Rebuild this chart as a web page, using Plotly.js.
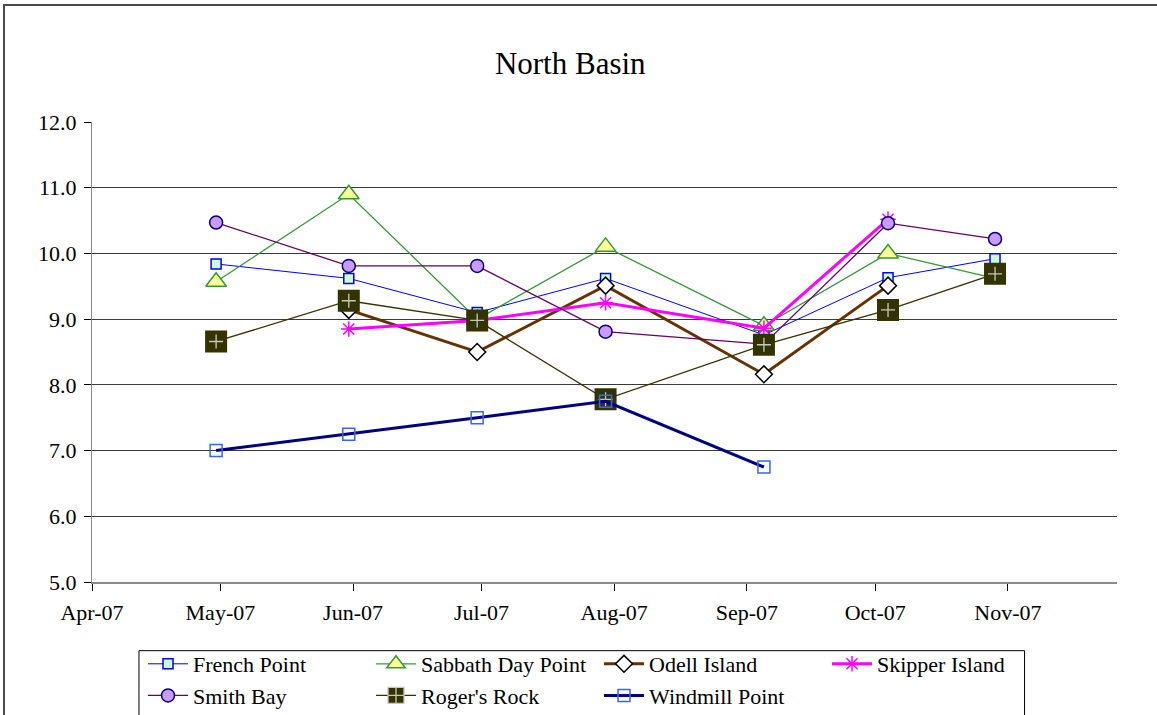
<!DOCTYPE html>
<html>
<head>
<meta charset="utf-8">
<script src="https://cdn.plot.ly/plotly-3.0.1.min.js"></script>
<style>
  html, body { margin: 0; padding: 0; background: #ffffff; overflow: hidden; }
  #chart { position: absolute; left: 0; top: 0; width: 1157px; height: 715px; }
  #frame { position: absolute; left: 3px; top: 4px; width: 1300px; height: 900px;
           border: 2px solid #4a4a4a; pointer-events: none; }
</style>
</head>
<body>
<div id="chart"></div>
<div id="frame"></div>
<script>
// ---- data ----
const sampleDates = ['2007-04-30', '2007-05-31', '2007-06-30', '2007-07-30', '2007-09-05', '2007-10-04', '2007-10-29'];
const frenchPoint     = [9.84, 9.62, 9.10, 9.62, 8.76, 9.63, 9.92];
const sabbathDayPoint = [9.57, 10.90, 9.00, 10.10, 8.90, 10.00, 9.62];
const odellIsland     = [null, 9.14, 8.50, 9.51, 8.16, 9.51, null];
const skipperIsland   = [null, 8.85, 8.98, 9.25, 8.86, 10.52, null];
const smithBay        = [10.47, 9.81, 9.81, 8.81, 8.62, 10.46, 10.22];
const rogersRock      = [8.66, 9.28, 8.98, 7.78, 8.61, 9.14, 9.69];
const windmillPoint   = [7.00, 7.25, 7.50, 7.75, 6.75, null, null];
const yTickValues = [5, 6, 7, 8, 9, 10, 11, 12];
const xRange = ['2007-04-01', '2007-11-26 12:00'];

const FONT = 'Liberation Serif, Times New Roman, serif';

const traces = [
  { name: 'French Point', x: sampleDates, y: frenchPoint, mode: 'lines+markers',
    line: { color: '#0000FF', width: 1 },
    marker: { symbol: 'square', size: 10, color: '#CCFFCC', line: { color: '#0000FF', width: 1.5 } } },
  { name: 'Sabbath Day Point', x: sampleDates, y: sabbathDayPoint, mode: 'lines+markers',
    line: { color: '#339933', width: 1.3 },
    marker: { symbol: 'triangle-up', size: 18, color: '#FFFF99', line: { color: '#339933', width: 1.5 } } },
  { name: 'Odell Island', x: sampleDates, y: odellIsland, mode: 'lines+markers',
    line: { color: '#663300', width: 3 },
    marker: { symbol: 'diamond', size: 13, color: '#FFFFFF', line: { color: '#000000', width: 1.5 } } },
  { name: 'Skipper Island', x: sampleDates, y: skipperIsland, mode: 'lines+markers',
    line: { color: '#FF00FF', width: 3 },
    marker: { symbol: 'asterisk-open', size: 13, color: '#FF00FF', line: { color: '#FF00FF', width: 1.5 } } },
  { name: 'Smith Bay', x: sampleDates, y: smithBay, mode: 'lines+markers',
    line: { color: '#660066', width: 1.3 },
    marker: { symbol: 'circle', size: 13, color: '#CC99FF', line: { color: '#000080', width: 1.5 } } },
  { name: "Roger's Rock", x: sampleDates, y: rogersRock, mode: 'lines+markers',
    line: { color: '#333300', width: 1.3 },
    marker: { symbol: 'square-cross', size: 18, color: '#333300', line: { color: '#C8C8C0', width: 1.3 } } },
  { name: "Roger's Rock", x: sampleDates, y: rogersRock, mode: 'markers', showlegend: false, hoverinfo: 'skip',
    marker: { symbol: 'square-open', size: 18, color: '#333300', line: { color: '#333300', width: 4 } } },
  { name: 'Windmill Point', x: sampleDates, y: windmillPoint, mode: 'lines+markers',
    line: { color: '#000080', width: 3 },
    marker: { symbol: 'square-open', size: 12, color: '#3366FF', line: { color: '#3366FF', width: 1.5 } } }
];

const layout = {
  width: 1157, height: 715,
  margin: { l: 92, r: 39.5, t: 122, b: 132.7, pad: 0, autoexpand: false },
  paper_bgcolor: '#FFFFFF', plot_bgcolor: '#FFFFFF',
  font: { family: FONT, color: '#000000', size: 22 },
  title: { text: 'North Basin', font: { family: FONT, size: 31, color: '#000000' },
           xref: 'paper', x: 0.4666, xanchor: 'center', yref: 'container', y: 0.912, yanchor: 'middle' },
  showlegend: true,
  legend: { orientation: 'h', xref: 'container', yref: 'container',
            x: 0.1236, xanchor: 'left', y: 0.1007, yanchor: 'top',
            bgcolor: 'rgba(0,0,0,0)', borderwidth: 0,
            font: { family: FONT, size: 22, color: '#000000' },
            itemwidth: 40, entrywidth: 173, traceorder: 'normal' },
  // legend frame (box), drawn as a layout rectangle
  shapes: [{ type: 'rect', xref: 'paper', yref: 'paper', layer: 'below',
             x0: 0.04583, x1: 0.9098, y0: -0.1493, y1: -0.32,
             line: { color: '#000000', width: 1 }, fillcolor: '#FFFFFF' }],
  xaxis: { type: 'date', range: xRange, dtick: 'M1', tick0: '2007-04-01', tickformat: '%b-%y',
           showgrid: false, zeroline: false, showline: true, linecolor: '#8a8a8a', linewidth: 2,
           ticks: 'outside', ticklen: 7, tickwidth: 1, tickcolor: '#000000', automargin: false,
           ticklabelstandoff: 3,
           tickfont: { family: FONT, size: 22, color: '#000000' }, fixedrange: true },
  yaxis: { range: [5, 12], tickvals: yTickValues, tickformat: '.1f', automargin: false,
           showgrid: true, gridcolor: '#3a3a3a', gridwidth: 1, zeroline: false,
           showline: true, linecolor: '#8a8a8a', linewidth: 1,
           ticks: 'outside', ticklen: 7, tickwidth: 1, tickcolor: '#000000',
           ticklabelstandoff: 3,
           tickfont: { family: FONT, size: 22, color: '#000000' }, fixedrange: true }
};

Plotly.newPlot('chart', traces, layout, { displayModeBar: false, staticPlot: true });
</script>
</body>
</html>
